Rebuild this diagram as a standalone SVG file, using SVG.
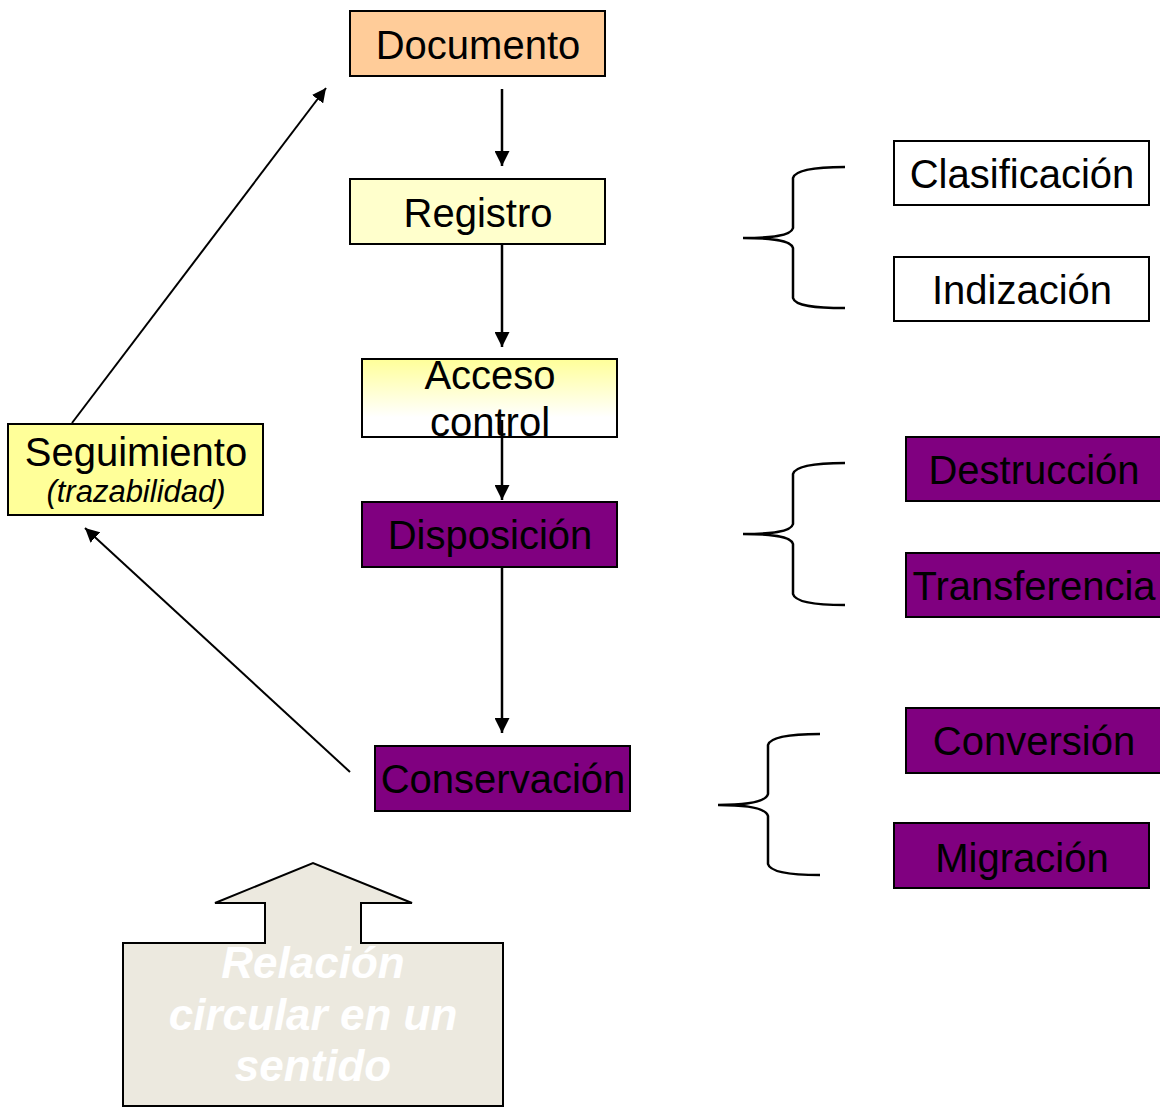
<svg xmlns="http://www.w3.org/2000/svg" width="1160" height="1108" viewBox="0 0 1160 1108">
<style>
  .box { stroke: #000; stroke-width: 2; }
  .t { font-family: "Liberation Sans", Arial, sans-serif; font-size: 40px; fill: #000; text-anchor: middle; }
  .conn { stroke: #000; fill: none; }
  .brace { stroke: #000; stroke-width: 2.5; fill: none; }
</style>
<defs>
  <linearGradient id="accGrad" x1="0" y1="0" x2="0" y2="1">
    <stop offset="0" stop-color="#FFFF99"/>
    <stop offset="0.75" stop-color="#FFFFFF"/>
    <stop offset="1" stop-color="#FFFFFF"/>
  </linearGradient>
  <marker id="ah" markerUnits="userSpaceOnUse" markerWidth="15" markerHeight="15" viewBox="0 0 14 14" refX="14" refY="7" orient="auto">
    <path d="M0,0 L14,7 L0,14 z" fill="#000"/>
  </marker>
  <marker id="ah2" markerUnits="userSpaceOnUse" markerWidth="14" markerHeight="14" viewBox="0 0 14 14" refX="14" refY="7" orient="auto">
    <path d="M0,0 L14,7 L0,14 z" fill="#000"/>
  </marker>
</defs>
<rect width="1160" height="1108" fill="#fff"/>

<g id="documento">
  <rect class="box" x="350" y="11" width="255" height="65" fill="#FFCC99"/>
  <text class="t" x="478" y="59">Documento</text>
</g>
<g id="registro">
  <rect class="box" x="350" y="179" width="255" height="65" fill="#FFFFCC"/>
  <text class="t" x="478" y="227">Registro</text>
</g>
<g id="acceso">
  <rect class="box" x="362" y="359" width="255" height="78" fill="url(#accGrad)"/>
  <text class="t" x="490" y="389">Acceso</text>
  <text class="t" x="490" y="436">control</text>
</g>
<g id="disposicion">
  <rect class="box" x="362" y="502" width="255" height="65" fill="#800080"/>
  <text class="t" x="490" y="549">Disposición</text>
</g>
<g id="conservacion">
  <rect class="box" x="375" y="746" width="255" height="65" fill="#800080"/>
  <text class="t" x="503" y="793">Conservación</text>
</g>
<g id="seguimiento">
  <rect class="box" x="8" y="424" width="255" height="91" fill="#FFFF99"/>
  <text class="t" x="136" y="466">Seguimiento</text>
  <text class="t" x="136" y="502" style="font-size:31px;font-style:italic">(trazabilidad)</text>
</g>
<g id="clasificacion">
  <rect class="box" x="894" y="141" width="255" height="64" fill="#FFFFFF"/>
  <text class="t" x="1022" y="188">Clasificación</text>
</g>
<g id="indizacion">
  <rect class="box" x="894" y="257" width="255" height="64" fill="#FFFFFF"/>
  <text class="t" x="1022" y="304">Indización</text>
</g>
<g id="destruccion">
  <rect class="box" x="906" y="437" width="256" height="64" fill="#800080"/>
  <text class="t" x="1034" y="484">Destrucción</text>
</g>
<g id="transferencia">
  <rect class="box" x="906" y="553" width="256" height="64" fill="#800080"/>
  <text class="t" x="1034" y="600">Transferencia</text>
</g>
<g id="conversion">
  <rect class="box" x="906" y="708" width="256" height="65" fill="#800080"/>
  <text class="t" x="1034" y="755">Conversión</text>
</g>
<g id="migracion">
  <rect class="box" x="894" y="823" width="255" height="65" fill="#800080"/>
  <text class="t" x="1022" y="872">Migración</text>
</g>
<g id="relacion">
  <path d="M123,943 L265,943 L265,903 L215,903 L313,863 L412,903 L361,903 L361,943 L503,943 L503,1106 L123,1106 Z" fill="#ECE9DF" stroke="#000" stroke-width="2"/>
  <g style="font-family:'Liberation Sans', Arial, sans-serif;font-size:44px;font-weight:bold;font-style:italic;fill:#fff;text-anchor:middle">
    <text x="313" y="978">Relación</text>
    <text x="313" y="1030">circular en un</text>
    <text x="313" y="1081">sentido</text>
  </g>
</g>

<g id="braces">
  <path class="brace" d="M845,167 C815,167 795,170 793,178 L793,228 C791,236 770,238 743,238 C770,238 791,240 793,248 L793,298 C795,306 815,308 845,308"/>
  <path class="brace" d="M845,463 C815,463 795,466 793,474 L793,524 C791,532 770,534 743,534 C770,534 791,536 793,544 L793,594 C795,602 815,605 845,605"/>
  <path class="brace" d="M820,734 C790,734 770,737 768,745 L768,794 C766,802 745,805 718,805 C745,805 766,808 768,816 L768,864 C770,872 790,875 820,875"/>
</g>

<g id="connectors">
  <line class="conn" x1="502" y1="89" x2="502" y2="166" stroke-width="2.5" marker-end="url(#ah)"/>
  <line class="conn" x1="502" y1="244" x2="502" y2="347" stroke-width="2.5" marker-end="url(#ah)"/>
  <line class="conn" x1="502" y1="420" x2="502" y2="500" stroke-width="2.5" marker-end="url(#ah)"/>
  <line class="conn" x1="502" y1="567" x2="502" y2="733" stroke-width="2.5" marker-end="url(#ah)"/>
  <line class="conn" x1="72" y1="423" x2="326" y2="88" stroke-width="2" marker-end="url(#ah2)"/>
  <line class="conn" x1="350" y1="772" x2="85" y2="528" stroke-width="2" marker-end="url(#ah2)"/>
</g>
</svg>
